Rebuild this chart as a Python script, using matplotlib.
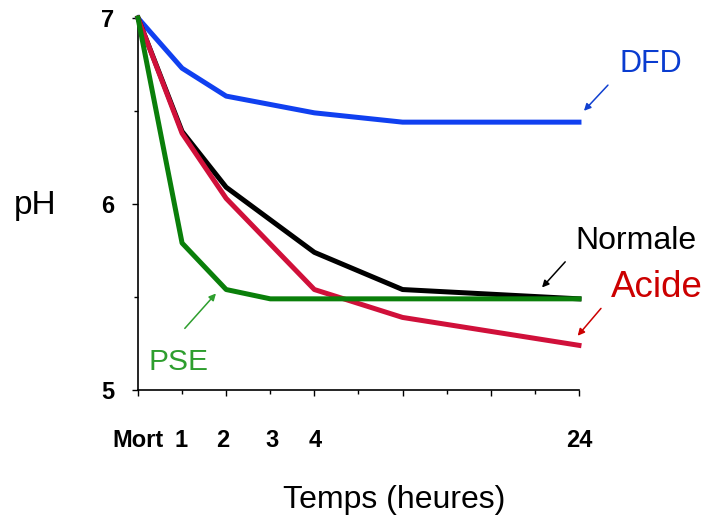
import matplotlib
matplotlib.use('Agg')
import matplotlib.pyplot as plt
from matplotlib.ticker import MultipleLocator

plt.rcParams['font.family'] = ['Liberation Sans', 'DejaVu Sans']

# heures (positions sur l'axe) et pH
x_pts = [0, 1, 2, 4, 6, 10]
ph_dfd = [7.0, 6.73, 6.58, 6.49, 6.44, 6.44]
ph_normale = [7.0, 6.39, 6.09, 5.74, 5.54, 5.49]
ph_acide = [7.0, 6.38, 6.03, 5.54, 5.39, 5.24]
x_pse = [0, 1, 2, 3, 10]
ph_pse = [7.0, 5.79, 5.54, 5.49, 5.49]

tick_labels = ['Mort', '1', '2', '3', '4', '24']
tick_pos = [0, 0.97, 1.92, 3.04, 4.02, 10]

fig = plt.figure(figsize=(7.09, 5.26), dpi=100)
ax = fig.add_axes([0.1946, 0.2586, 0.622, 0.7072])

ax.plot(x_pts, ph_dfd, color='#1040f0', lw=3.6, clip_on=False, zorder=3)
ax.plot(x_pts, ph_normale, color='black', lw=3.6, clip_on=False, zorder=4)
ax.plot(x_pts, ph_acide, color='#d0103a', lw=3.6, clip_on=False, zorder=5)
ax.plot(x_pse, ph_pse, color='#0a7f0a', lw=3.6, clip_on=False, zorder=6)

ax.set_xlim(0, 10)
ax.set_ylim(5, 7)
for s in ['top', 'right']:
    ax.spines[s].set_visible(False)
ax.spines['left'].set_linewidth(1.2)
ax.spines['bottom'].set_linewidth(1.2)

ax.xaxis.set_major_locator(MultipleLocator(2))
ax.xaxis.set_minor_locator(MultipleLocator(1))
ax.yaxis.set_major_locator(MultipleLocator(1))
ax.yaxis.set_minor_locator(MultipleLocator(0.5))
ax.tick_params(which='major', length=4, width=1)
ax.tick_params(which='minor', length=3, width=1)
ax.set_xticklabels([])
ax.set_yticks([5, 6, 7])
ax.set_yticklabels(['5', '6', '7'], fontsize=17, fontweight='bold')
ax.tick_params(axis='y', pad=13)

for lab, p in zip(tick_labels, tick_pos):
    ax.text(p, 4.73, lab, ha='center', va='center', fontsize=17,
            fontweight='bold', clip_on=False)

fig.text(35 / 709, 1 - 205 / 526, 'pH', ha='center', va='center', fontsize=24)
fig.text(394 / 709, 1 - 500 / 526, 'Temps (heures)', ha='center', va='center', fontsize=23)

arrow = dict(arrowstyle='-|>', lw=1.1, mutation_scale=10)
ax.annotate('', xy=(10.07, 6.49), xytext=(10.70, 6.65),
            arrowprops=dict(arrow, color='#1040d0'), annotation_clip=False)
ax.annotate('', xy=(9.12, 5.54), xytext=(9.73, 5.70),
            arrowprops=dict(arrow, color='black'), annotation_clip=False)
ax.annotate('', xy=(9.93, 5.28), xytext=(10.54, 5.45),
            arrowprops=dict(arrow, color='#cc0000'), annotation_clip=False)
ax.annotate('', xy=(1.81, 5.53), xytext=(1.02, 5.32),
            arrowprops=dict(arrow, color='#2e9e2e'), annotation_clip=False)

ax.text(11.63, 6.75, 'DFD', color='#0a3cd0', fontsize=22, ha='center', va='center', clip_on=False)
ax.text(11.29, 5.80, 'Normale', color='black', fontsize=23, ha='center', va='center', clip_on=False)
ax.text(11.77, 5.55, 'Acide', color='#cc0000', fontsize=26.5, ha='center', va='center', clip_on=False)
ax.text(0.91, 5.15, 'PSE', color='#2e9e2e', fontsize=21.5, ha='center', va='center', clip_on=False)

fig.savefig('out.png', dpi=100)
